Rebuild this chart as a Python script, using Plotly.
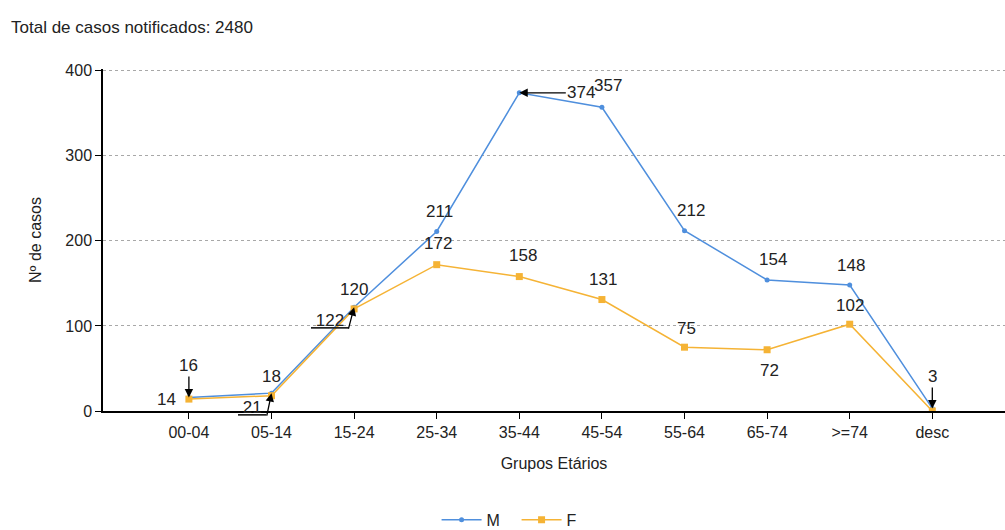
import plotly.graph_objects as go

# Notified cases by age group and sex
grupos = ["00-04", "05-14", "15-24", "25-34", "35-44", "45-54",
          "55-64", "65-74", ">=74", "desc"]
casos_m = [16, 21, 122, 211, 374, 357, 212, 154, 148, 3]
casos_f = [14, 18, 120, 172, 158, 131, 75, 72, 102, 0]
total_casos = sum(casos_m) + sum(casos_f)

y_ticks = [0, 100, 200, 300, 400]

COR_M = "#4f8fdd"
COR_F = "#f5b335"
FONTE = "Liberation Sans, Arial, sans-serif"
TXT = "#222222"

# label styles per point: ("plain", dx, dy) | ("arrow", ax, ay) | ("callout", dx, dy, ax, ay) | None
estilo_m = [("arrow", 0, -32), ("callout", -20, -14, -5, 24), ("callout", -24, -13, -6, 23),
            ("plain", 3, 20), ("arrow", 62, 0), ("plain", 6, 22), ("plain", 6, 20),
            ("plain", 6, 20), ("plain", 1, 20), ("arrow", 0, -32)]
estilo_f = [("plain", -22, 0), ("plain", 0, 19), ("plain", 0, 19), ("plain", 1, 21),
            ("plain", 4, 21), ("plain", 1, 20), ("plain", 2, 19), ("plain", 2, -21),
            ("plain", 0, 19), None]

fig = go.Figure()
fig.add_trace(go.Scatter(
    x=grupos, y=casos_m, name="M", mode="lines+markers",
    line=dict(color=COR_M, width=1.5),
    marker=dict(color=COR_M, size=5, symbol="circle"),
    hoverinfo="skip",
))
fig.add_trace(go.Scatter(
    x=grupos, y=casos_f, name="F", mode="lines+markers",
    line=dict(color=COR_F, width=1.5),
    marker=dict(color=COR_F, size=7, symbol="square"),
    hoverinfo="skip",
))

anots = []
label_font = dict(family=FONTE, size=17, color=TXT)
for valores, estilos in ((casos_m, estilo_m), (casos_f, estilo_f)):
    for g, v, est in zip(grupos, valores, estilos):
        if est is None:
            continue
        tipo = est[0]
        if tipo == "plain":
            anots.append(dict(x=g, y=v, text=str(v), showarrow=False,
                              xshift=est[1], yshift=est[2], font=label_font))
        elif tipo == "arrow":
            anots.append(dict(x=g, y=v, text=str(v), showarrow=True,
                              ax=est[1], ay=est[2], arrowhead=2, arrowsize=1.3,
                              arrowwidth=1.3, arrowcolor="black", font=label_font,
                              standoff=0))
        elif tipo == "callout":
            anots.append(dict(x=g, y=v, text="<u>\u00a0" + str(v) + "\u00a0</u>",
                              showarrow=False, xshift=est[1], yshift=est[2],
                              font=label_font))
            anots.append(dict(x=g, y=v, text="", showarrow=True,
                              ax=est[3], ay=est[4], arrowhead=2, arrowsize=1.3,
                              arrowwidth=1.3, arrowcolor="black"))

fig.update_layout(
    width=1005, height=530,
    margin=dict(l=103, r=0, t=69, b=119),
    paper_bgcolor="white", plot_bgcolor="white",
    font=dict(family=FONTE, size=16, color=TXT),
    title=dict(text=f"Total de casos notificados: {total_casos}",
               xref="container", yref="container",
               x=11 / 1005, y=1 - 27 / 530, xanchor="left", yanchor="middle",
               font=dict(family=FONTE, size=17, color=TXT)),
    showlegend=True,
    legend=dict(orientation="h", xref="container", yref="container",
                x=0.514, y=0.019, xanchor="center", yanchor="middle",
                font=dict(size=16, color=TXT), itemwidth=40,
                entrywidth=25, entrywidthmode="pixels"),
    annotations=anots,
    xaxis=dict(
        type="category", range=[-1.04, 9.88],
        showline=True, linecolor="black", linewidth=1.5,
        ticks="outside", ticklen=6, tickcolor="black",
        showgrid=False, zeroline=False,
        tickfont=dict(size=16, color=TXT),
        title=dict(text="Grupos Etários", font=dict(size=16, color=TXT), standoff=18),
    ),
    yaxis=dict(
        range=[0, 402], tickvals=y_ticks,
        showline=True, linecolor="black", linewidth=1.5,
        ticks="outside", ticklen=6, tickcolor="black",
        showgrid=True, gridcolor="#a8a8a8", griddash="dot", gridwidth=1,
        zeroline=False,
        tickfont=dict(size=16, color=TXT),
        title=dict(text="Nº de casos", font=dict(size=16, color=TXT), standoff=20),
    ),
)

fig.write_html("out.html")
